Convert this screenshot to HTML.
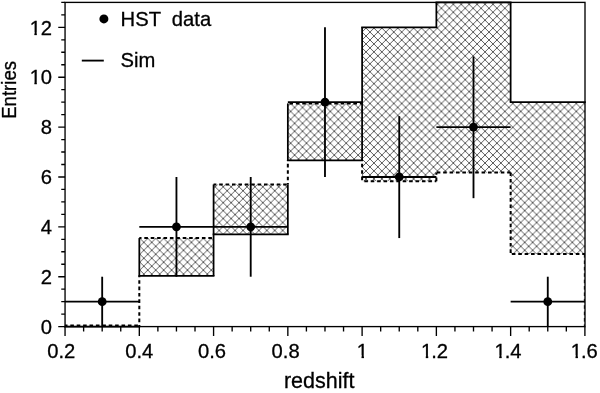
<!DOCTYPE html>
<html><head><meta charset="utf-8"><title>redshift</title>
<style>
html,body{margin:0;padding:0;background:#fff;}
body{width:600px;height:393px;overflow:hidden;}
svg{display:block;}
text{font-family:"Liberation Sans",Arial,Helvetica,sans-serif;fill:#000;stroke:#000;stroke-width:0.3px;}
</style></head><body>
<svg width="600" height="393" viewBox="0 0 600 393">
<defs><pattern id="hatch" x="1.0" y="4.3" width="7.935" height="7.935" patternUnits="userSpaceOnUse"><path d="M-1,-1 L8.93,8.93 M-1,8.93 L8.93,-1" stroke="#000" stroke-width="0.64" fill="none"/></pattern></defs>
<rect x="0" y="0" width="600" height="393" fill="#fff"/>
<rect x="139.31" y="238.07" width="74.26" height="37.91" fill="url(#hatch)"/>
<rect x="213.58" y="184.45" width="74.26" height="49.88" fill="url(#hatch)"/>
<rect x="287.84" y="103.4" width="74.26" height="56.86" fill="url(#hatch)"/>
<rect x="362.11" y="27.34" width="74.26" height="153.87" fill="url(#hatch)"/>
<rect x="436.37" y="2.4" width="74.26" height="170.08" fill="url(#hatch)"/>
<rect x="510.64" y="102.15" width="74.26" height="151.88" fill="url(#hatch)"/>
<line x1="65.05" y1="325.6" x2="139.31" y2="325.6" stroke="#000" stroke-width="2.0" stroke-dasharray="3.6,2.8" stroke-dashoffset="1.15"/>
<line x1="139.31" y1="238.07" x2="213.58" y2="238.07" stroke="#000" stroke-width="2.0" stroke-dasharray="3.6,2.8" stroke-dashoffset="1.4"/>
<line x1="213.58" y1="184.45" x2="287.84" y2="184.45" stroke="#000" stroke-width="2.0" stroke-dasharray="3.6,2.8" stroke-dashoffset="0.8"/>
<line x1="287.84" y1="103.4" x2="362.11" y2="103.4" stroke="#000" stroke-width="2.0" stroke-dasharray="3.6,2.8" stroke-dashoffset="4.8"/>
<line x1="362.11" y1="181.21" x2="436.37" y2="181.21" stroke="#000" stroke-width="2.0" stroke-dasharray="3.6,2.8" stroke-dashoffset="4.2"/>
<line x1="436.37" y1="172.48" x2="510.64" y2="172.48" stroke="#000" stroke-width="2.0" stroke-dasharray="3.6,2.8" stroke-dashoffset="6"/>
<line x1="510.64" y1="254.03" x2="584.9" y2="254.03" stroke="#000" stroke-width="2.0" stroke-dasharray="3.6,2.8" stroke-dashoffset="5.2"/>
<line x1="139.31" y1="275.97" x2="139.31" y2="326.6" stroke="#000" stroke-width="2.0" stroke-dasharray="3.6,2.8" stroke-dashoffset="2.2"/>
<line x1="287.84" y1="160.26" x2="287.84" y2="184.45" stroke="#000" stroke-width="2.0" stroke-dasharray="3.6,2.8" stroke-dashoffset="2.8"/>
<line x1="362.11" y1="160.26" x2="362.11" y2="181.21" stroke="#000" stroke-width="2.0" stroke-dasharray="3.6,2.8" stroke-dashoffset="2.9"/>
<line x1="436.37" y1="181.21" x2="436.37" y2="172.48" stroke="#000" stroke-width="2.0" stroke-dasharray="3.6,2.8" stroke-dashoffset="0"/>
<line x1="510.64" y1="172.48" x2="510.64" y2="254.03" stroke="#000" stroke-width="2.0" stroke-dasharray="3.6,2.8" stroke-dashoffset="0"/>
<line x1="584.35" y1="254.03" x2="584.35" y2="326.6" stroke="#000" stroke-width="1.0" stroke-dasharray="3.6,2.8" stroke-dashoffset="0"/>
<line x1="64.17" y1="326.6" x2="140.19" y2="326.6" stroke="#000" stroke-width="1.75"/>
<line x1="138.44" y1="275.97" x2="214.45" y2="275.97" stroke="#000" stroke-width="1.75"/>
<line x1="212.7" y1="234.33" x2="288.72" y2="234.33" stroke="#000" stroke-width="1.75"/>
<line x1="286.97" y1="160.26" x2="362.98" y2="160.26" stroke="#000" stroke-width="1.75"/>
<line x1="361.23" y1="27.34" x2="437.25" y2="27.34" stroke="#000" stroke-width="1.75"/>
<line x1="435.5" y1="2.4" x2="511.51" y2="2.4" stroke="#000" stroke-width="1.75"/>
<line x1="509.76" y1="102.15" x2="585.78" y2="102.15" stroke="#000" stroke-width="1.75"/>
<line x1="139.31" y1="275.97" x2="139.31" y2="238.07" stroke="#000" stroke-width="1.75"/>
<line x1="213.58" y1="275.97" x2="213.58" y2="184.45" stroke="#000" stroke-width="1.75"/>
<line x1="287.84" y1="234.33" x2="287.84" y2="184.45" stroke="#000" stroke-width="1.75"/>
<line x1="287.84" y1="160.26" x2="287.84" y2="103.4" stroke="#000" stroke-width="1.75"/>
<line x1="362.11" y1="160.26" x2="362.11" y2="27.34" stroke="#000" stroke-width="1.75"/>
<line x1="436.37" y1="27.34" x2="436.37" y2="2.4" stroke="#000" stroke-width="1.75"/>
<line x1="510.64" y1="102.15" x2="510.64" y2="2.4" stroke="#000" stroke-width="1.75"/>
<line x1="65.05" y1="301.66" x2="139.31" y2="301.66" stroke="#000" stroke-width="1.85"/>
<line x1="102.18" y1="326.6" x2="102.18" y2="276.72" stroke="#000" stroke-width="1.85"/>
<circle cx="102.18" cy="301.66" r="4.4" fill="#000"/>
<line x1="139.31" y1="226.85" x2="213.58" y2="226.85" stroke="#000" stroke-width="1.85"/>
<line x1="176.45" y1="276.72" x2="176.45" y2="176.97" stroke="#000" stroke-width="1.85"/>
<circle cx="176.45" cy="226.85" r="4.4" fill="#000"/>
<line x1="213.58" y1="226.85" x2="287.84" y2="226.85" stroke="#000" stroke-width="1.85"/>
<line x1="250.71" y1="276.72" x2="250.71" y2="176.97" stroke="#000" stroke-width="1.85"/>
<circle cx="250.71" cy="226.85" r="4.4" fill="#000"/>
<line x1="287.84" y1="102.15" x2="362.11" y2="102.15" stroke="#000" stroke-width="1.85"/>
<line x1="324.98" y1="176.97" x2="324.98" y2="27.34" stroke="#000" stroke-width="1.85"/>
<circle cx="324.98" cy="102.15" r="4.4" fill="#000"/>
<line x1="362.11" y1="176.97" x2="436.37" y2="176.97" stroke="#000" stroke-width="1.85"/>
<line x1="399.24" y1="238.07" x2="399.24" y2="116.12" stroke="#000" stroke-width="1.85"/>
<circle cx="399.24" cy="176.97" r="4.4" fill="#000"/>
<line x1="436.37" y1="127.09" x2="510.64" y2="127.09" stroke="#000" stroke-width="1.85"/>
<line x1="473.5" y1="198.17" x2="473.5" y2="56.52" stroke="#000" stroke-width="1.85"/>
<circle cx="473.5" cy="127.09" r="4.4" fill="#000"/>
<line x1="510.64" y1="301.66" x2="584.9" y2="301.66" stroke="#000" stroke-width="1.85"/>
<line x1="547.77" y1="326.6" x2="547.77" y2="276.72" stroke="#000" stroke-width="1.85"/>
<circle cx="547.77" cy="301.66" r="4.4" fill="#000"/>
<rect x="65.05" y="2.4" width="519.95" height="324.2" fill="none" stroke="#000" stroke-width="1.35"/>
<path d="M65.05,326.6 h-6.8 M65.05,314.13 h-3.8 M65.05,301.66 h-3.8 M65.05,289.19 h-3.8 M65.05,276.72 h-6.8 M65.05,264.25 h-3.8 M65.05,251.78 h-3.8 M65.05,239.32 h-3.8 M65.05,226.85 h-6.8 M65.05,214.38 h-3.8 M65.05,201.91 h-3.8 M65.05,189.44 h-3.8 M65.05,176.97 h-6.8 M65.05,164.5 h-3.8 M65.05,152.03 h-3.8 M65.05,139.56 h-3.8 M65.05,127.09 h-6.8 M65.05,114.62 h-3.8 M65.05,102.15 h-3.8 M65.05,89.68 h-3.8 M65.05,77.22 h-6.8 M65.05,64.75 h-3.8 M65.05,52.28 h-3.8 M65.05,39.81 h-3.8 M65.05,27.34 h-6.8 M65.05,14.87 h-3.8 M65.05,2.4 h-3.8 M65.05,326.6 v9.5 M83.62,326.6 v5 M102.18,326.6 v5 M120.75,326.6 v5 M139.31,326.6 v9.5 M157.88,326.6 v5 M176.45,326.6 v5 M195.01,326.6 v5 M213.58,326.6 v9.5 M232.14,326.6 v5 M250.71,326.6 v5 M269.28,326.6 v5 M287.84,326.6 v9.5 M306.41,326.6 v5 M324.98,326.6 v5 M343.54,326.6 v5 M362.11,326.6 v9.5 M380.67,326.6 v5 M399.24,326.6 v5 M417.81,326.6 v5 M436.37,326.6 v9.5 M454.94,326.6 v5 M473.5,326.6 v5 M492.07,326.6 v5 M510.64,326.6 v9.5 M529.2,326.6 v5 M547.77,326.6 v5 M566.33,326.6 v5 M584.9,326.6 v9.5" fill="none" stroke="#000" stroke-width="1.35"/>
<text x="40.87" y="333.8" font-size="20.2">0</text>
<text x="40.87" y="283.92" font-size="20.2">2</text>
<text x="40.87" y="234.05" font-size="20.2">4</text>
<text x="40.87" y="184.17" font-size="20.2">6</text>
<text x="40.87" y="134.29" font-size="20.2">8</text>
<text x="29.64" y="84.42" font-size="20.2" clip-path="url(#c0)">10</text>
<text x="29.64" y="34.54" font-size="20.2" clip-path="url(#c1)">12</text>
<text x="47.21" y="357.6" font-size="20.2">0.2</text>
<text x="125.28" y="357.6" font-size="20.2">0.4</text>
<text x="198.04" y="357.6" font-size="20.2">0.6</text>
<text x="271.6" y="357.6" font-size="20.2">0.8</text>
<text x="356.79" y="357.6" font-size="20.2" clip-path="url(#c2)">1</text>
<text x="421.03" y="357.6" font-size="20.2" clip-path="url(#c3)">1<tspan dx="-1">.2</tspan></text>
<text x="494.5" y="357.6" font-size="20.2" clip-path="url(#c4)">1<tspan dx="-1">.4</tspan></text>
<text x="570.76" y="357.6" font-size="20.2" clip-path="url(#c5)">1<tspan dx="-1">.6</tspan></text>
<text x="319.2" y="387.6" font-size="21.5" text-anchor="middle">redshift</text>
<text transform="translate(16.3,89.9) rotate(-90) scale(1,1.045)" font-size="18.55" text-anchor="middle">Entries</text>
<circle cx="103.9" cy="18.9" r="4.5" fill="#000"/>
<text x="120.6" y="25.9" font-size="20.2" xml:space="preserve">HST  data</text>
<line x1="81.8" y1="60.6" x2="103.8" y2="60.6" stroke="#000" stroke-width="1.85"/>
<text x="120.6" y="67.2" font-size="20.2">Sim</text>
<defs><clipPath id="c0"><path d="M27.64,64.22 H55.1 V89.42 H41 V82.08 H36.81 V85.42 H34.41 V82.08 H27.64 Z"/></clipPath><clipPath id="c1"><path d="M27.64,14.34 H55.1 V39.54 H41 V32.2 H36.81 V35.54 H34.41 V32.2 H27.64 Z"/></clipPath><clipPath id="c2"><path d="M354.79,337.4 H371.02 V362.6 H368 V355.26 H363.96 V358.6 H361.56 V355.26 H354.79 Z"/></clipPath><clipPath id="c3"><path d="M419.03,337.4 H452.11 V362.6 H432 V355.26 H428.2 V358.6 H425.8 V355.26 H419.03 Z"/></clipPath><clipPath id="c4"><path d="M492.5,337.4 H525.57 V362.6 H505 V355.26 H501.66 V358.6 H499.27 V355.26 H492.5 Z"/></clipPath><clipPath id="c5"><path d="M568.76,337.4 H601.84 V362.6 H582 V355.26 H577.93 V358.6 H575.53 V355.26 H568.76 Z"/></clipPath></defs>
</svg>
</body></html>
